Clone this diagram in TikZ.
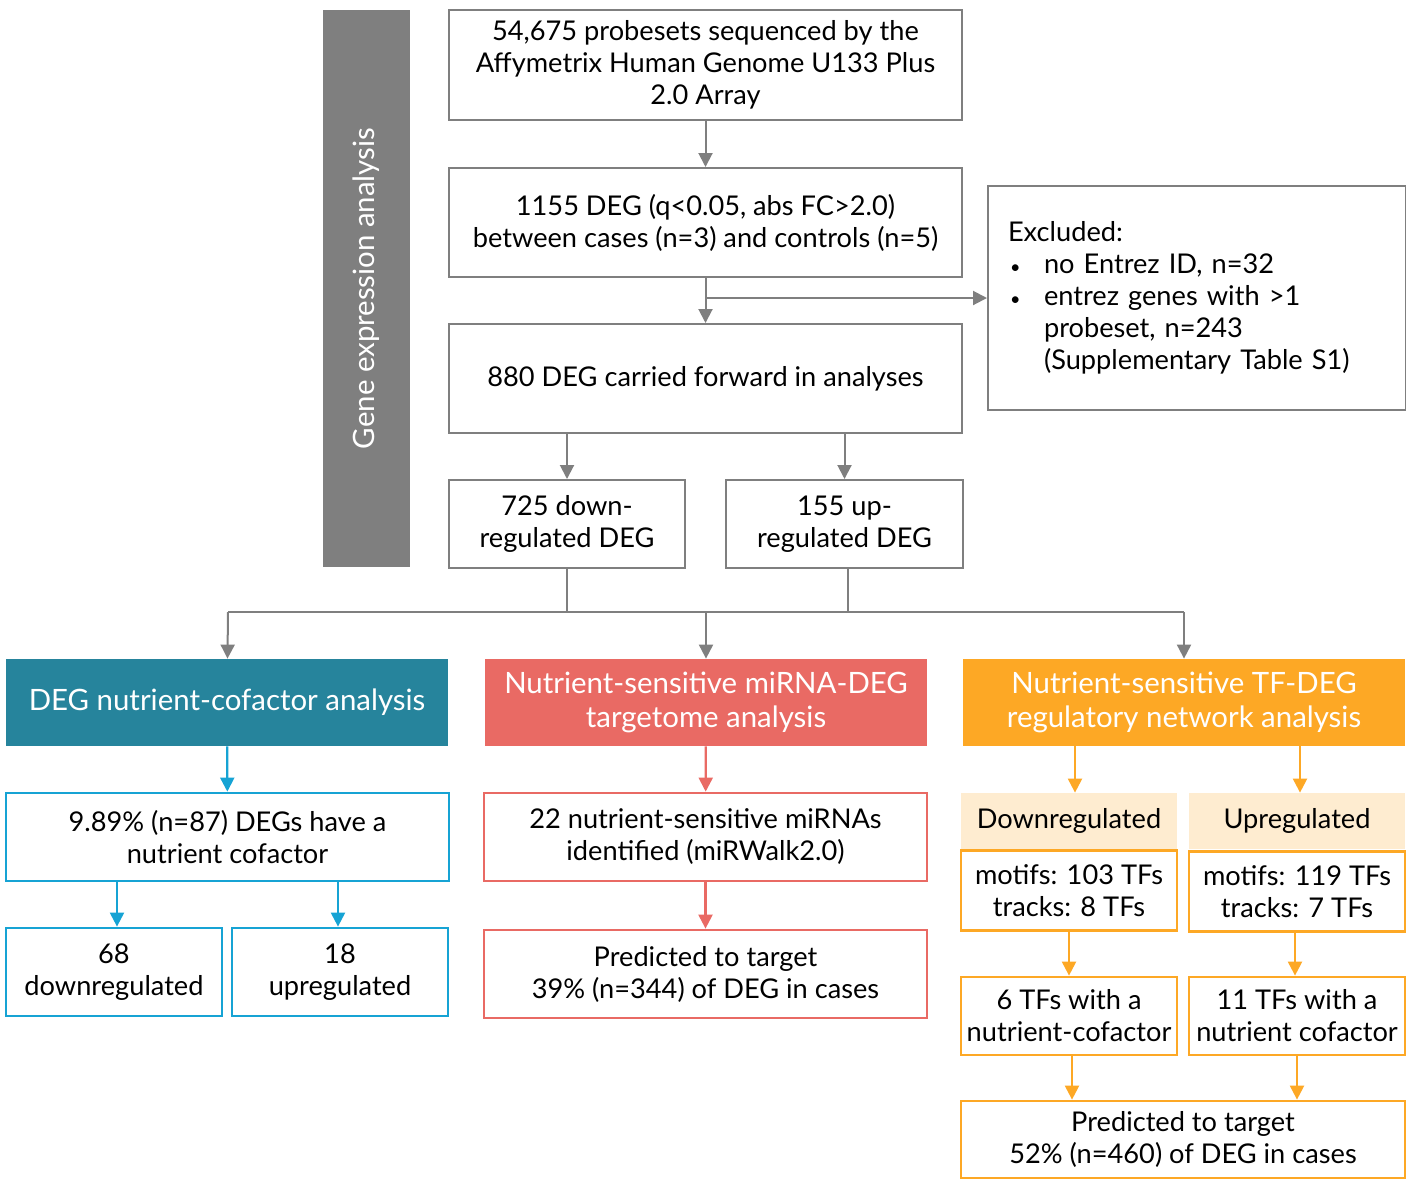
\documentclass[tikz,border=0pt]{standalone}
\usepackage{fontspec}
\setmainfont{Lato}
\usetikzlibrary{arrows.meta,calc}

\definecolor{lgris}{RGB}{127,127,127}
\definecolor{cteal}{RGB}{38,132,156}
\definecolor{cbleu}{RGB}{22,163,212}
\definecolor{crouge}{RGB}{233,106,100}
\definecolor{corange}{RGB}{253,168,37}
\definecolor{cpeche}{RGB}{254,236,208}

\begin{document}
\begin{tikzpicture}  % ------ Gene expression flow -----------
      [x=0.5pt,y=-0.5pt,
       txt/.style={font=\fontsize{13.6pt}{16pt}\selectfont,align=center,inner sep=2pt},
       big/.style={font=\fontsize{14.7pt}{17pt}\selectfont,align=center,text=white,inner sep=2pt},
       gbox/.style={txt,draw=lgris,line width=1pt},
       bbox/.style={txt,draw=cbleu,line width=1.4pt},
       rbox/.style={txt,draw=crouge,line width=1.4pt},
       obox/.style={txt,draw=corange,line width=1.4pt},
       garr/.style={draw=lgris,line width=1pt,-{Triangle[width=7pt,length=7pt]}},
       barr/.style={draw=cbleu,line width=1.1pt,-{Triangle[width=7pt,length=7pt]}},
       rarr/.style={draw=crouge,line width=1.1pt,-{Triangle[width=7pt,length=7pt]}},
       oarr/.style={draw=corange,line width=1.1pt,-{Triangle[width=7pt,length=7pt]}}]
    \useasboundingbox (0,0) rectangle (1406,1179);

    % ------ partie haute (gris) -----------
    \node [big,fill=lgris,rotate=90,minimum width=278.5pt,minimum height=43.5pt] (bar) at (366.5,288.5) {Gene expression analysis};
    \node [gbox,minimum width=256.5pt,minimum height=55pt] (probes) at (705.5,65)
        {54,675 probesets sequenced by the\\Affymetrix Human Genome U133 Plus\\2.0 Array};
    \node [gbox,minimum width=256.5pt,minimum height=54.5pt] (deg) at (705.5,222.5)
        {1155 DEG (q<0.05, abs FC>2.0)\\between cases (n=3) and controls (n=5)};
    \node [gbox,minimum width=256.5pt,minimum height=54.5pt] (kept) at (705.5,378.5)
        {880 DEG carried forward in analyses};
    \node [gbox,align=left,text width=189pt,inner xsep=10pt,minimum height=112pt] (excl) at (1197,298)
        {Excluded:\\
         \makebox[18pt][l]{\hspace{1pt}{\small\textbullet}}no Entrez ID, n=32\\
         \makebox[18pt][l]{\hspace{1pt}{\small\textbullet}}entrez genes with >1\\
         \hspace{18pt}probeset, n=243\\
         \hspace{18pt}(Supplementary Table S1)};
    \node [gbox,minimum width=118pt,minimum height=44pt] (down) at (567,524) {725 down-\\regulated DEG};
    \node [gbox,minimum width=118.5pt,minimum height=44pt] (up) at (844.5,524) {155 up-\\regulated DEG};

    \draw [garr] (probes) -- (deg);
    \draw [garr] (deg) -- (kept);
    \draw [garr] (deg.south |- excl.west) -- (excl.west);
    \draw [garr] (kept.south -| down) -- (down);
    \draw [garr] (kept.south -| up) -- (up);

    \coordinate (jl) at (228,612);
    \coordinate (jr) at (1184,612);
    \draw [draw=lgris,line width=1pt] (jl) -- (jr);
    \draw [draw=lgris,line width=1pt] (down.south) -- (down.south |- jl);
    \draw [draw=lgris,line width=1pt] ([xshift=1.5pt]up.south) -- ([xshift=1.5pt]up.south |- jl);

    % ------ trois analyses -----------
    \node [big,fill=cteal,minimum width=221pt,minimum height=43.5pt] (cof) at (227,702.5)
        {DEG nutrient-cofactor analysis};
    \node [big,fill=crouge,minimum width=221pt,minimum height=43.5pt] (mir) at (706,702.5)
        {Nutrient-sensitive miRNA-DEG\\targetome analysis};
    \node [big,fill=corange,minimum width=221pt,minimum height=43.5pt] (tf) at (1184,702.5)
        {Nutrient-sensitive TF-DEG\\regulatory network analysis};

    \draw [garr] (jl) -- (cof);
    \draw [garr] (jl -| mir) -- (mir);
    \draw [garr] (jr) -- (tf);

    % ------ cofacteurs (bleu) -----------
    \node [bbox,minimum width=221.5pt,minimum height=44pt] (cofn) at (227.5,837)
        {9.89\% (n=87) DEGs have a\\nutrient cofactor};
    \node [bbox,minimum width=108pt,minimum height=44pt] (cofd) at (114,972) {68\\downregulated};
    \node [bbox,minimum width=108pt,minimum height=44pt] (cofu) at (340,972) {18\\upregulated};

    \draw [barr] (cof) -- (cofn);
    \draw [barr] ([xshift=1.5pt]cofn.south -| cofd) -- ([xshift=1.5pt]cofd.north);
    \draw [barr] ([xshift=-1pt]cofn.south -| cofu) -- ([xshift=-1pt]cofu.north);

    % ------ miRNA (rouge) -----------
    \node [rbox,minimum width=221.5pt,minimum height=44pt] (mirn) at (705.5,837)
        {22 nutrient-sensitive miRNAs\\identified (miRWalk2.0)};
    \node [rbox,minimum width=221.5pt,minimum height=44pt] (mirt) at (705.5,974)
        {Predicted to target\\39\% (n=344) of DEG in cases};

    \draw [rarr] (mir) -- (mirn);
    \draw [rarr] (mirn) -- (mirt);

    % ------ facteurs de transcription (orange) -----------
    \node [txt,fill=cpeche,minimum width=108pt,minimum height=28pt] (tfdh) at (1069,821) {Downregulated};
    \node [txt,fill=cpeche,minimum width=108pt,minimum height=28pt] (tfuh) at (1297,821) {Upregulated};
    \node [obox,minimum width=108pt,minimum height=40pt] (tfdm) at (1069,890.5)
        {motifs: 103 TFs\\tracks: 8 TFs};
    \node [obox,minimum width=108pt,minimum height=40pt] (tfum) at (1297,891.5)
        {motifs: 119 TFs\\tracks: 7 TFs};
    \node [obox,minimum width=108pt,minimum height=39pt] (tfdc) at (1069,1016)
        {6 TFs with a\\nutrient-cofactor};
    \node [obox,minimum width=108pt,minimum height=39pt] (tfuc) at (1297,1016)
        {11 TFs with a\\nutrient cofactor};
    \node [obox,minimum width=222pt,minimum height=38.5pt] (tft) at (1183,1139.5)
        {Predicted to target\\52\% (n=460) of DEG in cases};

    \draw [oarr] ([xshift=3pt]tf.south -| tfdh) -- ([xshift=3pt]tfdh.north);
    \draw [oarr] ([xshift=1.5pt]tf.south -| tfuh) -- ([xshift=1.5pt]tfuh.north);
    \draw [oarr] (tfdm.south) -- (tfdm.south |- tfdc.north);
    \draw [oarr] ([xshift=-1pt]tfum.south) -- ([xshift=-1pt]tfuc.north);
    \draw [oarr] ([xshift=1.5pt]tfdc.south) -- ([xshift=1.5pt]tfdc.south |- tft.north);
    \draw [oarr] (tfuc.south) -- (tfuc.south |- tft.north);
\end{tikzpicture}
\end{document}
